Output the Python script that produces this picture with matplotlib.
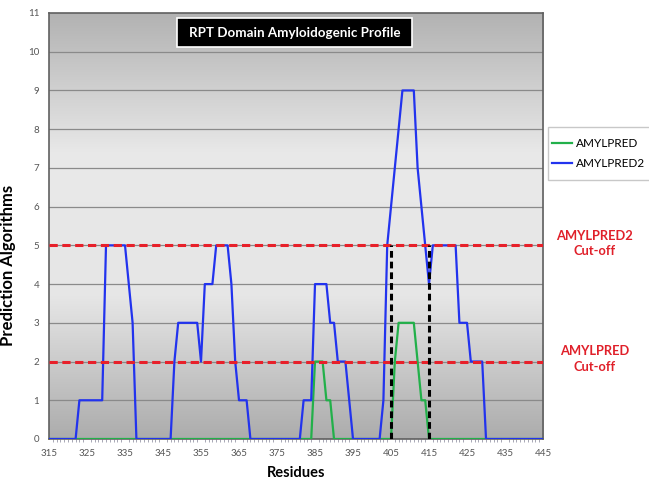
import numpy as np
import matplotlib.pyplot as plt
from matplotlib.colors import LinearSegmentedColormap
from matplotlib.patches import Rectangle

plt.rcParams['font.family'] = ['Lato', 'DejaVu Sans']

# residue numbers and per-residue counts of algorithms predicting amyloidogenicity
residues = np.arange(315, 446)

amylpred2_pts = {323: 1, 324: 1, 325: 1, 326: 1, 327: 1, 328: 1, 329: 1,
                 330: 5, 331: 5, 332: 5, 333: 5, 334: 5, 335: 5, 336: 4, 337: 3,
                 348: 2, 349: 3, 350: 3, 351: 3, 352: 3, 353: 3, 354: 3, 355: 2,
                 356: 4, 357: 4, 358: 4, 359: 5, 360: 5, 361: 5, 362: 5, 363: 4,
                 364: 2, 365: 1, 366: 1, 367: 1,
                 382: 1, 383: 1, 384: 1, 385: 4, 386: 4, 387: 4, 388: 4, 389: 3,
                 390: 3, 391: 2, 392: 2, 393: 2, 394: 1,
                 403: 1, 404: 5, 405: 6, 406: 7, 407: 8, 408: 9, 409: 9, 410: 9,
                 411: 9, 412: 7, 413: 6, 414: 5, 415: 4, 416: 5, 417: 5, 418: 5,
                 419: 5, 420: 5, 421: 5, 422: 5, 423: 3, 424: 3, 425: 3, 426: 2,
                 427: 2, 428: 2, 429: 2}
amylpred_pts = {385: 2, 386: 2, 387: 2, 388: 1, 389: 1,
                406: 2, 407: 3, 408: 3, 409: 3, 410: 3, 411: 3, 412: 2, 413: 1, 414: 1}

amylpred2 = [amylpred2_pts.get(r, 0) for r in residues]
amylpred = [amylpred_pts.get(r, 0) for r in residues]

cutoff_amylpred = 2
cutoff_amylpred2 = 5
window = [405, 415]   # black dashed window

fig = plt.figure(figsize=(6.49, 4.83), dpi=100)
ax = fig.add_axes([0.0755, 0.0911, 0.7612, 0.882])

# grey gradient background (dark top, light middle, darker bottom)
cmap = LinearSegmentedColormap.from_list('bg', ['#acacac', '#e6e6e6', '#e9e9e9', '#b2b2b2'])
grad = np.linspace(0, 1, 256).reshape(-1, 1)
ax.imshow(grad, cmap=cmap, aspect='auto', extent=[315, 445, 11, 0], zorder=0)

for yv in range(1, 11):
    ax.axhline(yv, color='#8a8a8a', lw=0.9, zorder=1)

l1, = ax.plot(residues, amylpred, color='#22b04a', lw=1.6, label='AMYLPRED', zorder=3)
l2, = ax.plot(residues, amylpred2, color='#2233ee', lw=1.6, label='AMYLPRED2', zorder=4)

ax.axhline(cutoff_amylpred2, color='#e8202a', lw=2.2, ls=(0, (2.7, 1.5)), zorder=5)
ax.axhline(cutoff_amylpred, color='#e8202a', lw=2.2, ls=(0, (2.7, 1.5)), zorder=5)
for xv in window:
    ax.plot([xv, xv], [0, cutoff_amylpred2], color='black', lw=2.2, ls=(0, (2.2, 1.3)), zorder=6)

ax.set_xlim(315, 445)
ax.set_ylim(0, 11)
ax.set_xticks(np.arange(315, 446, 10))
ax.set_xticks(residues, minor=True)
ax.set_yticks(np.arange(0, 12, 1))
ax.tick_params(axis='both', labelsize=7, labelcolor='#555555', length=0, pad=7)
ax.tick_params(axis='x', which='minor', length=2.5, color='#9a9aaa', direction='out')
for s in ax.spines.values():
    s.set_color('#606060')
    s.set_linewidth(1.2)

ax.set_xlabel('Residues', fontsize=10.5, fontweight='bold', labelpad=6)
ax.set_ylabel('Prediction Algorithms', fontsize=12, fontweight='bold')
ax.yaxis.set_label_coords(-0.067, 0.408)

# title box
ax.add_patch(Rectangle((0.259, 0.920), 0.476, 0.068, transform=ax.transAxes,
                       facecolor='black', edgecolor='white', lw=1.2, zorder=8))
ax.text(0.497, 0.954, 'RPT Domain Amyloidogenic Profile', transform=ax.transAxes,
        ha='center', va='center', color='white', fontsize=9.6, fontweight='bold', zorder=9)

# legend with its own frame outside the plot
fig.patches.append(Rectangle((548 / 649, 1 - 180 / 483), 0.2, 53 / 483, transform=fig.transFigure,
                             facecolor='white', edgecolor='#c8c8c8', lw=1.0, zorder=-1))
fig.legend(handles=[l1, l2], loc='upper left', bbox_to_anchor=(552 / 649, 1 - 138 / 483),
           bbox_transform=fig.transFigure, fontsize=8.5, frameon=False, borderpad=0,
           borderaxespad=0, handlelength=1.7, handletextpad=0.3, labelspacing=0.8)

fig.text(0.916, 0.496, 'AMYLPRED2\nCut-off', ha='center', va='center', color='#e0202a',
         fontsize=9.3, fontweight='bold', linespacing=1.3)
fig.text(0.916, 0.257, 'AMYLPRED\nCut-off', ha='center', va='center', color='#e0202a',
         fontsize=9.3, fontweight='bold', linespacing=1.4)

fig.savefig('out.png', dpi=100)
